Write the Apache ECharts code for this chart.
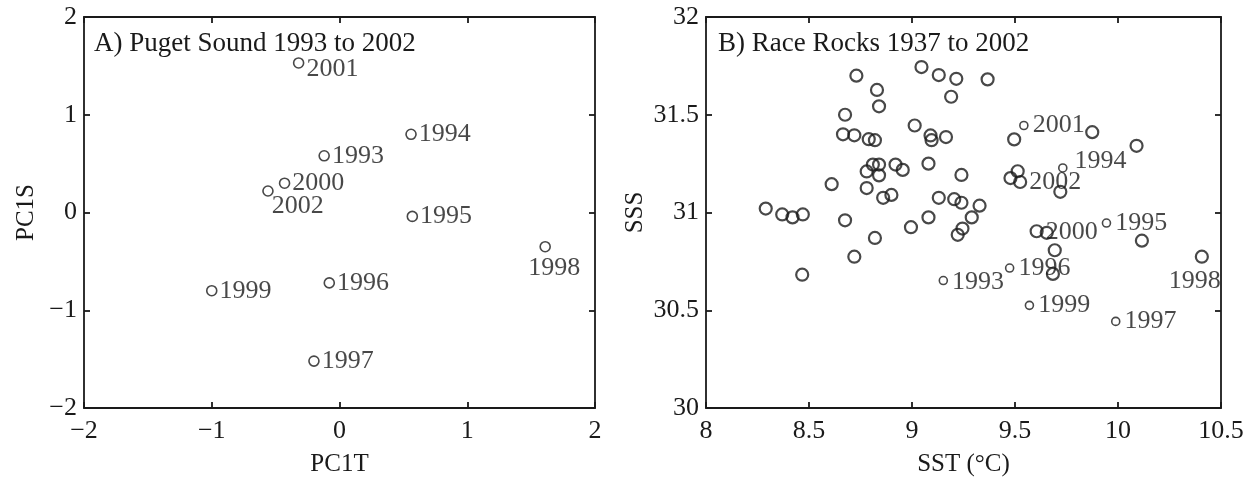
<!DOCTYPE html>
<html><head><meta charset="utf-8">
<script src="https://cdn.jsdelivr.net/npm/echarts@6/dist/echarts.min.js"></script>
<style>html,body{margin:0;padding:0;background:#fff}#c{width:1250px;height:482px}</style>
</head><body><div id="c"></div>
<script>
// ---- Panel A data (Puget Sound) ----
const aYears = ['1993','1994','1995','1996','1997','1998','1999','2000','2001','2002'];
const aPC1T  = [-0.12, 0.56, 0.57, -0.08, -0.20, 1.61, -1.00, -0.43, -0.32, -0.56];
const aPC1S  = [ 0.58, 0.80, -0.04, -0.72, -1.52, -0.35, -0.80, 0.30, 1.53, 0.22];
// ---- Panel B data (Race Rocks), unlabeled years ----
const bSST = [8.29,8.37,8.42,8.47,8.61,8.675,8.675,8.665,8.72,8.73,8.79,8.82,8.83,8.84,8.78,8.81,8.84,8.84,8.78,8.86,8.9,8.82,8.92,8.955,8.995,9.013,9.046,9.08,9.08,9.09,9.095,9.13,9.13,9.165,9.19,9.215,9.205,9.24,9.24,9.245,9.222,9.29,9.328,9.367,9.496,9.513,9.478,9.875,10.09,9.72,9.605,10.116,8.467,8.72,9.693,9.684];
const bSSS = [31.02,30.99,30.975,30.99,31.145,30.96,31.50,31.40,31.395,31.70,31.375,31.37,31.627,31.543,31.21,31.245,31.245,31.19,31.125,31.075,31.09,30.87,31.245,31.218,30.925,31.445,31.744,31.25,30.975,31.394,31.37,31.703,31.075,31.386,31.592,31.684,31.068,31.192,31.05,30.918,30.886,30.975,31.035,31.681,31.374,31.211,31.176,31.411,31.341,31.106,30.904,30.856,30.682,30.774,30.807,30.686];
// ---- Panel B labeled years ----
const bYears = ['1993','1994','1995','1996','1997','1998','1999','2000','2001','2002'];
const bYSST  = [9.152, 9.732, 9.944, 9.474, 9.989, 10.407, 9.57, 9.654, 9.543, 9.525];
const bYSSS  = [30.652, 31.228, 30.946, 30.716, 30.443, 30.774, 30.525, 30.896, 31.445, 31.156];
// ---- tick labels ----
const aTicks = [-2,-1,0,1,2];
const bXTicks = [8,8.5,9,9.5,10,10.5];
const bYTicks = [30,30.5,31,31.5,32];

const FONT = 'Liberation Serif';
const TICK_FS = 26, LAB_FS = 26, NAME_FS = 25, TITLE_FS = 27;
const INK = '#1a1a1a';
const fmt = v => (v < 0 ? '\u2212' + Math.abs(v) : String(v));

// label layout per year (style only)
const aLab = {
  '2001': {position:'right', distance:2, offset:[0,6]},
  '2002': {position:'right', distance:-2, offset:[0,15]},
  '1998': {position:'bottom', distance:3, offset:[9,0]}
};
const bLab = {
  '1994': {position:'right', distance:7, offset:[0,-7]},
  '2000': {position:'right', distance:-8, offset:[0,-1]},
  '2002': {position:'right', distance:2, offset:[0,0]},
  '1998': {position:'bottom', distance:4, offset:[-7,0]},
  '1993': {position:'right', distance:4, offset:[0,2]}
};
const bBig = {'1998':true,'2000':true,'2002':true};

function mkItems(xs, ys, yrs, labs, big, defDist) {
  return xs.map((x,i) => {
    const y = yrs[i];
    const l = labs[y] || {position:'right', distance:defDist};
    const it = {value:[x, ys[i]], name:y,
      label:{show:true, formatter:y, position:l.position, distance:l.distance,
             offset:l.offset || [0,0], color:INK, fontFamily:FONT, fontSize:LAB_FS}};
    if (big && big[y]) { it.symbolSize = 12; it.itemStyle = {borderWidth:2.2}; }
    return it;
  });
}

function baseAx(grid, min, max, interval) {
  return {gridIndex:grid, type:'value', min:min, max:max, interval:interval,
    splitLine:{show:false},
    axisLine:{show:true, onZero:false, lineStyle:{color:INK, width:1.8}},
    axisTick:{show:true, inside:true, length:6, lineStyle:{color:INK, width:1.8}}};
}
function xAx(grid, min, max, interval, ticks, name) {
  const base = baseAx(grid, min, max, interval);
  return [
    Object.assign({}, base, {position:'bottom', name:name, nameLocation:'middle', nameGap:44,
      nameTextStyle:{fontFamily:FONT, fontSize:NAME_FS, color:INK},
      axisLabel:{fontFamily:FONT, fontSize:TICK_FS, color:INK, margin:10,
        formatter: v => ticks.indexOf(v) >= 0 ? fmt(v) : ''}}),
    Object.assign({}, base, {position:'top', axisLabel:{show:false}})
  ];
}
function yAx(grid, min, max, interval, ticks, name, gap) {
  const base = baseAx(grid, min, max, interval);
  return [
    Object.assign({}, base, {position:'left', name:name, nameLocation:'middle', nameGap:gap, nameRotate:90,
      nameTextStyle:{fontFamily:FONT, fontSize:NAME_FS, color:INK},
      axisLabel:{fontFamily:FONT, fontSize:TICK_FS, color:INK, margin:7,
        formatter: v => ticks.indexOf(v) >= 0 ? fmt(v) : ''}}),
    Object.assign({}, base, {position:'right', axisLabel:{show:false}})
  ];
}

const chart = echarts.init(document.getElementById('c'), null, {renderer:'canvas'});
const xs = xAx(0,-2,2,1,aTicks,'PC1T').concat(xAx(1,8,10.5,0.5,bXTicks,'SST (\u00B0C)'));
const ys = yAx(0,-2,2,1,aTicks,'PC1S',45).concat(yAx(1,30,32,0.5,bYTicks,'SSS',58));
chart.setOption({
  animation:false,
  backgroundColor:'#fff',
  title:[
    {text:'A) Puget Sound 1993 to 2002', left:89, top:25, textStyle:{fontFamily:FONT, fontSize:TITLE_FS, fontWeight:'normal', color:INK}},
    {text:'B) Race Rocks 1937 to 2002', left:713, top:25, textStyle:{fontFamily:FONT, fontSize:TITLE_FS, fontWeight:'normal', color:INK}}
  ],
  grid:[
    {left:84, top:17, width:511, height:395},
    {left:706, top:17, width:515, height:395}
  ],
  xAxis: xs,
  yAxis: ys,
  series:[
    {type:'scatter', xAxisIndex:0, yAxisIndex:0, symbol:'circle', symbolSize:10,
     itemStyle:{color:'rgba(255,255,255,0)', borderColor:INK, borderWidth:1.6},
     data: mkItems(aPC1T, aPC1S, aYears, aLab, null, 2)},
    {type:'scatter', xAxisIndex:2, yAxisIndex:2, symbol:'circle', symbolSize:12,
     itemStyle:{color:'rgba(255,255,255,0)', borderColor:INK, borderWidth:2.2},
     data: bSST.map((x,i) => [x, bSSS[i]])},
    {type:'scatter', xAxisIndex:2, yAxisIndex:2, symbol:'circle', symbolSize:8,
     itemStyle:{color:'rgba(255,255,255,0)', borderColor:INK, borderWidth:1.6},
     data: mkItems(bYSST, bYSSS, bYears, bLab, bBig, 4)}
  ]
});
</script></body></html>
